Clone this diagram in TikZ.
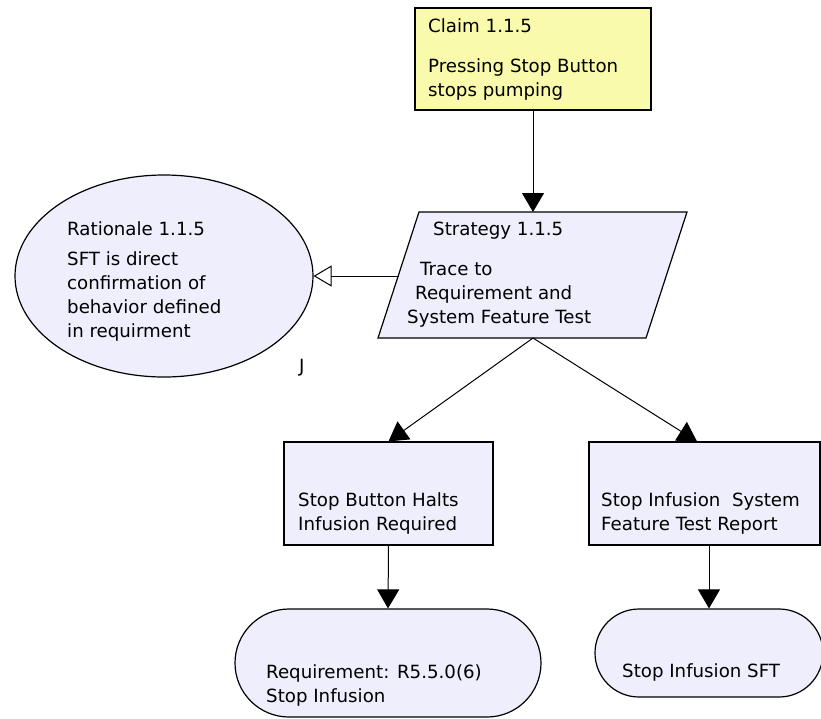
\documentclass[tikz,border=0pt]{standalone}
\usepackage{fontspec}
\setmainfont{DejaVu Sans}
\usetikzlibrary{shapes.geometric,arrows.meta}
\definecolor{goalyellow}{RGB}{250,250,172}
\definecolor{lavender}{RGB}{238,238,252}
\begin{document}
\begin{tikzpicture}[x=1pt,y=-1pt,
  shapebox/.style={draw=black,line width=1.2pt,fill=lavender,inner sep=0pt},
  txt/.style={anchor=base west,inner sep=0pt,font=\fontsize{18.2}{24}\selectfont},
  link/.style={draw=black,line width=1pt},
  solidhead/.style={link,-{Triangle[length=19pt,width=22pt]}},
  openhead/.style={link,-{Triangle[open,length=18pt,width=21pt,fill=white]}}]
\useasboundingbox (0,0) rectangle (821,718);

% Claim (goal) box
\node[shapebox,fill=goalyellow,rectangle,minimum width=236pt,minimum height=102pt]
  (claim) at (533,59) {};
% Strategy parallelogram, drawn as a path with named attachment points
\draw[shapebox] (419,212) -- (687,212) -- (646,338) -- (378,338) -- cycle;
\coordinate (stratN) at (533,212);
\coordinate (stratS) at (533,338);
\coordinate (stratW) at (398.5,276);
% Rationale ellipse
\node[shapebox,ellipse,minimum width=298pt,minimum height=202pt]
  (rat) at (164,276) {};
% Requirement and test report boxes
\node[shapebox,rectangle,minimum width=209pt,minimum height=103pt]
  (req) at (388.5,493.5) {};
\node[shapebox,rectangle,minimum width=231pt,minimum height=103pt]
  (rep) at (704.5,493.5) {};
% Solutions (stadium shapes)
\node[shapebox,rectangle,rounded corners=54pt,minimum width=306pt,minimum height=108pt]
  (sol1) at (388,663) {};
\node[shapebox,rectangle,rounded corners=44pt,minimum width=228pt,minimum height=88pt]
  (sol2) at (709,653) {};

% Texts
\node[txt] (claimT) at (428,32) {Claim 1.1.5};
\node[txt] (claimA) at (428,72) {Pressing Stop Button};
\node[txt] (claimB) at (428,96) {stops pumping};

\node[txt] (stratT) at (433,235) {Strategy 1.1.5};
\node[txt] (stratA) at (420,275) {Trace to};
\node[txt] (stratB) at (415,299) {Requirement and};
\node[txt] (stratC) at (407,323) {System Feature Test};

\node[txt] (ratT) at (67,235) {Rationale 1.1.5};
\node[txt] (ratA) at (67,265) {SFT is direct};
\node[txt] (ratB) at (67,289) {confirmation of};
\node[txt] (ratC) at (67,313) {behavior defined};
\node[txt] (ratD) at (67,337) {in requirment};
\node[txt] (jmark) at (299,372) {J};

\node[txt] (reqA) at (298,506) {Stop Button Halts};
\node[txt] (reqB) at (298,530) {Infusion Required};
\node[txt] (repA) at (601,506) {Stop Infusion\ \ System};
\node[txt] (repB) at (601,530) {Feature Test Report};

\node[txt] (sol1A) at (266,678) {Requirement: R5.5.0(6)};
\node[txt] (sol1B) at (266,702) {Stop Infusion};
\node[txt] (sol2A) at (622,677) {Stop Infusion SFT};

% Connectors
\draw[solidhead] (claim.south) -- (stratN);
\draw[openhead] (stratW) -- (rat.east);
\draw[solidhead] (stratS) -- (req.north);
\draw[solidhead] (stratS) -- ([xshift=-7.5pt]rep.north);
\draw[solidhead] (req.south) -- (sol1.north);
\draw[solidhead] ([xshift=4.5pt]rep.south) -- (sol2.north);
\end{tikzpicture}
\end{document}
